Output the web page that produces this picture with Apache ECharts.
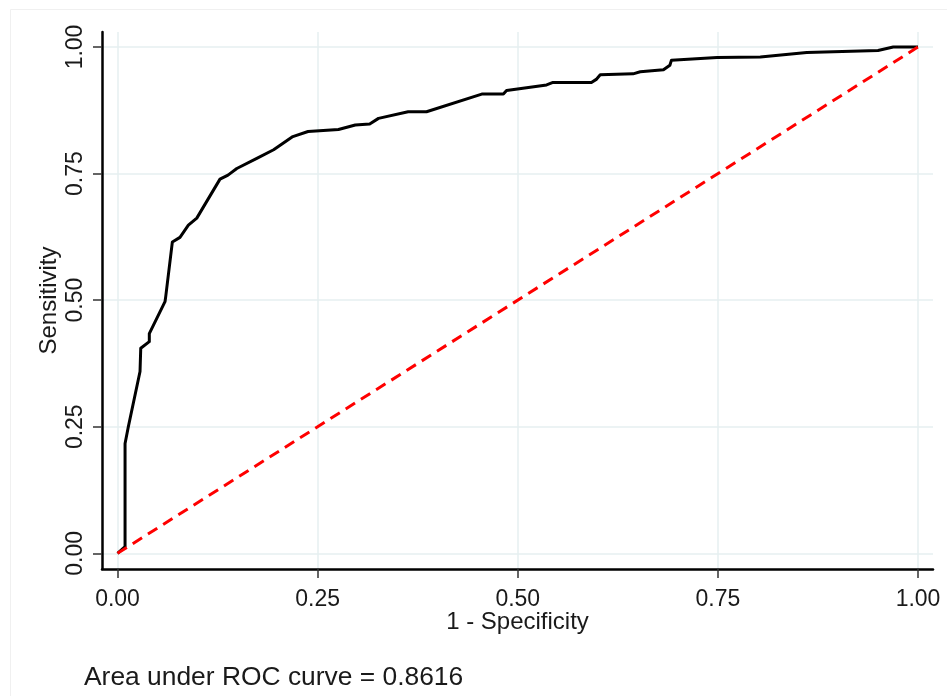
<!DOCTYPE html>
<html>
<head>
<meta charset="utf-8">
<script src="https://cdn.jsdelivr.net/npm/echarts@6/dist/echarts.min.js"></script>
<style>
html,body{margin:0;padding:0;background:#fff;}
#chart{width:947px;height:696px;}
</style>
</head>
<body>
<div id="chart"></div>
<script>
// ROC curve points
const fpr = [0, 0.0094, 0.0094, 0.0135, 0.0281, 0.029, 0.0397, 0.0397, 0.0593, 0.0602, 0.0685, 0.078, 0.0885, 0.099, 0.128, 0.138, 0.149, 0.174, 0.195, 0.219, 0.238, 0.276, 0.297, 0.315, 0.326, 0.363, 0.386, 0.455, 0.482, 0.486, 0.536, 0.544, 0.592, 0.598, 0.603, 0.644, 0.653, 0.682, 0.690, 0.692, 0.749, 0.803, 0.861, 0.950, 0.969, 1];
const tpr = [0, 0.013, 0.217, 0.250, 0.359, 0.405, 0.418, 0.434, 0.497, 0.507, 0.615, 0.624, 0.648, 0.662, 0.739, 0.747, 0.760, 0.780, 0.797, 0.823, 0.833, 0.837, 0.846, 0.848, 0.859, 0.872, 0.872, 0.907, 0.907, 0.914, 0.925, 0.930, 0.930, 0.936, 0.945, 0.947, 0.951, 0.955, 0.964, 0.974, 0.979, 0.980, 0.989, 0.993, 1.0, 1];
const refX = [0, 1];
const refY = [0, 1];
const tickValues = [0, 0.25, 0.5, 0.75, 1];
const tickLabels = ['0.00', '0.25', '0.50', '0.75', '1.00'];
const xTitle = '1 - Specificity';
const yTitle = 'Sensitivity';
const noteText = 'Area under ROC curve = 0.8616';

const FONT = '"Liberation Sans", Arial, sans-serif';
const chart = echarts.init(document.getElementById('chart'), null, {renderer: 'canvas'});

function fmt(v) {
  const i = tickValues.findIndex(t => Math.abs(t - v) < 1e-9);
  return i >= 0 ? tickLabels[i] : '';
}

const gridLineStyle = {color: '#e6eff1', width: 1.5};

const option = {
  backgroundColor: '#fff',
  animation: false,
  grid: {left: 102, right: 14, top: 32, bottom: 127, containLabel: false},
  xAxis: {
    type: 'value',
    min: -0.0194,
    max: 1.0187,
    name: xTitle,
    nameLocation: 'middle',
    nameGap: 41,
    nameMoveOverlap: false,
    nameTextStyle: {fontFamily: FONT, fontSize: 24, color: '#1a1a1a'},
    axisLine: {show: true, onZero: false, lineStyle: {color: '#000', width: 2.5}},
    axisTick: {show: true, length: 9, customValues: tickValues, lineStyle: {color: '#333', width: 1.5}},
    axisLabel: {show: true, customValues: tickValues, formatter: fmt, margin: 19, fontFamily: FONT, fontSize: 23, color: '#1a1a1a'},
    splitLine: {show: true, lineStyle: gridLineStyle}
  },
  yAxis: {
    type: 'value',
    min: -0.031,
    max: 1.0296,
    name: yTitle,
    nameLocation: 'middle',
    nameGap: 41,
    nameMoveOverlap: false,
    nameTextStyle: {fontFamily: FONT, fontSize: 24, color: '#1a1a1a'},
    axisLine: {show: true, onZero: false, lineStyle: {color: '#000', width: 2.5}},
    axisTick: {show: true, length: 9, customValues: tickValues, lineStyle: {color: '#333', width: 1.5}},
    axisLabel: {show: true, customValues: tickValues, formatter: fmt, rotate: 90, margin: 15, fontFamily: FONT, fontSize: 23, color: '#1a1a1a'},
    splitLine: {show: true, lineStyle: gridLineStyle}
  },
  series: [
    {
      type: 'line',
      name: 'ROC',
      data: fpr.map((x, i) => [x, tpr[i]]),
      showSymbol: false,
      symbol: 'none',
      lineStyle: {color: '#000', width: 3, join: 'round'},
      z: 3
    },
    {
      type: 'line',
      name: 'Reference',
      data: refX.map((x, i) => [x, refY[i]]),
      showSymbol: false,
      symbol: 'none',
      lineStyle: {color: '#ff0000', width: 3, type: [11, 7]},
      z: 4
    }
  ],
  graphic: [
    {
      type: 'rect',
      left: 8, top: 7, z: -10,
      shape: {x: 0, y: 0, width: 1200, height: 1000},
      style: {fill: 'none', stroke: '#f0f0f0', lineWidth: 1}
    },
    {
      type: 'text',
      x: 84, y: 678,
      style: {text: noteText, fontFamily: FONT, fontSize: 26.4, fill: '#1a1a1a', textVerticalAlign: 'middle', textAlign: 'left'}
    }
  ]
};
chart.setOption(option);
</script>
</body>
</html>
